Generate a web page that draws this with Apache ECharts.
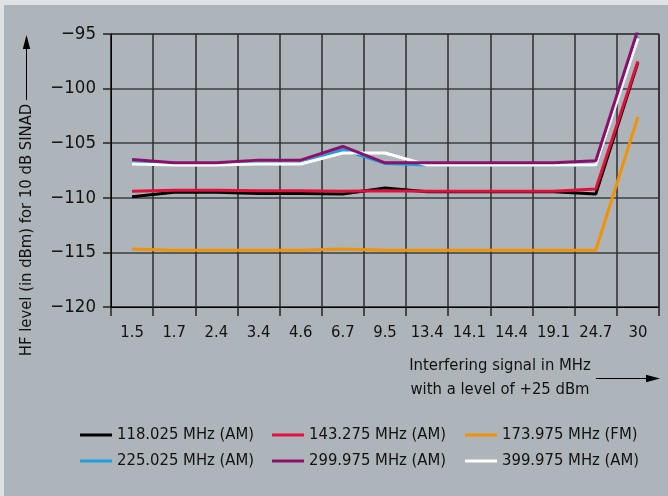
<!DOCTYPE html>
<html><head><meta charset="utf-8">
<script src="https://cdn.jsdelivr.net/npm/echarts@6/dist/echarts.min.js"></script>
<style>html,body{margin:0;padding:0;background:#dfe3e6;}#c{width:668px;height:496px;}</style>
</head><body><div id="c"></div>
<script>
const categories = ['1.5','1.7','2.4','3.4','4.6','6.7','9.5','13.4','14.1','14.4','19.1','24.7','30'];
const yTicks = [-120,-115,-110,-105,-100,-95];
const s118 = [-109.9,-109.5,-109.5,-109.6,-109.6,-109.65,-109.1,-109.45,-109.45,-109.45,-109.45,-109.65,-97.6];
const s143 = [-109.4,-109.3,-109.3,-109.35,-109.35,-109.4,-109.35,-109.4,-109.4,-109.4,-109.4,-109.2,-97.5];
const s173 = [-114.7,-114.8,-114.8,-114.8,-114.8,-114.7,-114.8,-114.8,-114.8,-114.8,-114.8,-114.8,-102.6];
const s225 = [-106.8,-106.9,-106.9,-106.85,-106.85,-105.6,-106.85,-107.0,-107.0,-107.0,-107.0,-107.0,-95.2];
const s299 = [-106.5,-106.8,-106.8,-106.55,-106.55,-105.3,-106.8,-106.8,-106.8,-106.8,-106.8,-106.6,-94.6];
const s399 = [-106.9,-107.0,-107.0,-106.9,-106.9,-105.9,-105.9,-107.0,-107.0,-107.0,-107.0,-107.0,-95.4];
const names = ['118.025 MHz (AM)','143.275 MHz (AM)','173.975 MHz (FM)','225.025 MHz (AM)','299.975 MHz (AM)','399.975 MHz (AM)'];
const colors = ['#000000','#e2103c','#f39200','#1ea0dc','#8c0f6e','#ffffff'];
const seriesData = [s118, s143, s173, s225, s299, s399];
const zOrder = [2,4,2,2,5,3];

const FONT = '"Liberation Sans Narrow","DejaVu Sans Condensed",sans-serif';
const FS = 16.5;
const chart = echarts.init(document.getElementById('c'), null, {renderer:'canvas'});
const fmt = v => (v < 0 ? '\u2212' + Math.abs(v) : String(v));
const legendBase = {
  orient:'vertical', top:426, padding:0, itemWidth:32, itemHeight:3, icon:'rect', itemGap:8,
  textStyle:{fontFamily:FONT, fontSize:FS, color:'#111', lineHeight:18}, selectedMode:false
};
chart.setOption({
  backgroundColor:'#dfe3e6',
  animation:false,
  graphic:[
    {type:'rect', shape:{x:4,y:5,width:664,height:491}, style:{fill:'#adb5ba'}, z:-10},
    {type:'text', x:27, y:230, rotation:Math.PI/2,
      style:{text:'HF level (in dBm) for 10 dB SINAD', font:FS+'px '+FONT, fill:'#111', align:'center', verticalAlign:'middle'}},
    {type:'line', shape:{x1:26.5,y1:100,x2:26.5,y2:46}, style:{stroke:'#000', lineWidth:1}},
    {type:'polygon', shape:{points:[[26.5,35],[22.8,49],[30.2,49]]}, style:{fill:'#000'}},
    {type:'text', x:500, y:366, style:{text:'Interfering signal in MHz', font:FS+'px '+FONT, fill:'#111', align:'center', verticalAlign:'middle'}},
    {type:'text', x:500, y:390, style:{text:'with a level of +25 dBm', font:FS+'px '+FONT, fill:'#111', align:'center', verticalAlign:'middle'}},
    {type:'line', shape:{x1:596,y1:378.5,x2:648,y2:378.5}, style:{stroke:'#000', lineWidth:1}},
    {type:'polygon', shape:{points:[[660,378.5],[646,374.8],[646,382.2]]}, style:{fill:'#000'}}
  ],
  grid:{left:111, top:34, right:9, bottom:189, show:true, borderColor:'#000', borderWidth:1},
  xAxis:{
    type:'category', data:categories, boundaryGap:true,
    axisLine:{lineStyle:{color:'#000', width:1}},
    axisTick:{show:true, length:9, interval:0, lineStyle:{color:'#222', width:1.5}},
    axisLabel:{fontFamily:FONT, fontSize:FS, color:'#111', margin:17, interval:0},
    splitLine:{show:true, interval:0, lineStyle:{color:'#2a2e30', width:1.5}}
  },
  yAxis:{
    type:'value', min:-120, max:-95, interval:5,
    axisLine:{show:true, lineStyle:{color:'#000', width:1}},
    axisTick:{show:true, length:8, lineStyle:{color:'#222', width:1.5}},
    axisLabel:{fontFamily:FONT, fontSize:18.5, color:'#111', margin:15,
      formatter: v => yTicks.includes(v) ? fmt(v) : ''},
    splitLine:{show:true, lineStyle:{color:'#3a3f42', width:1.5}}
  },
  legend:[
    Object.assign({}, legendBase, {left:80, data:[names[0], names[3]]}),
    Object.assign({}, legendBase, {left:272, data:[names[1], names[4]]}),
    Object.assign({}, legendBase, {left:465, data:[names[2], names[5]]})
  ],
  series: seriesData.map((d,i)=>({
    name:names[i], type:'line', data:d, symbol:'none', z:zOrder[i],
    color:colors[i], lineStyle:{color:colors[i], width:3}
  }))
});
</script></body></html>
